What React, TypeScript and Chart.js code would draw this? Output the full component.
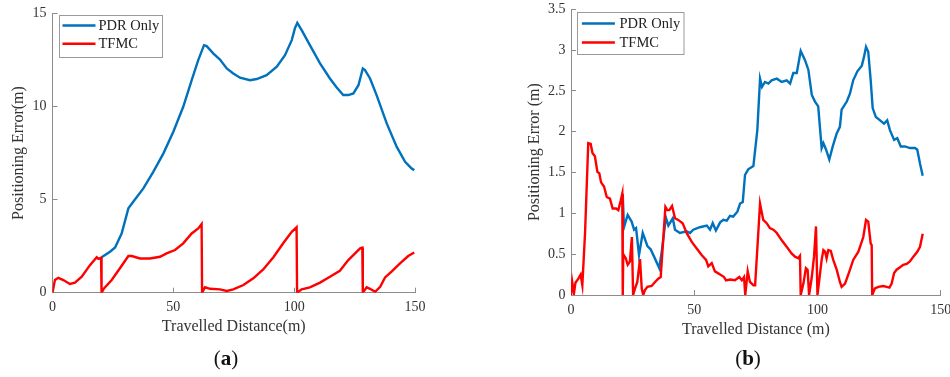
import React, { useEffect, useRef } from "react";
import { Chart, registerables } from "chart.js";

Chart.register(...registerables);

// ---------- Panel (a) ----------
const aXTicks = [0, 50, 100, 150];
const aYTicks = [0, 5, 10, 15];
const aPdrX = [20.3, 23.8, 25.9, 28.6, 31.4, 33.4, 37.6, 41.7, 45.9, 50.0, 54.1, 57.6, 60.3, 62.7, 63.8, 66.6, 69.3, 72.1, 74.8, 77.6, 81.7, 84.5, 88.6, 92.8, 96.2, 99.0, 100.3, 101.3, 103.1, 106.5, 110.7, 114.8, 117.6, 120.3, 122.4, 124.5, 126.6, 128.4, 129.3, 131.4, 134.1, 138.3, 142.4, 145.9, 148.6, 149.7];
const aPdrY = [1.90, 2.20, 2.43, 3.18, 4.53, 4.88, 5.60, 6.49, 7.48, 8.64, 9.98, 11.41, 12.49, 13.29, 13.24, 12.84, 12.52, 12.04, 11.77, 11.54, 11.41, 11.47, 11.68, 12.13, 12.75, 13.56, 14.19, 14.49, 14.10, 13.29, 12.31, 11.50, 11.02, 10.61, 10.61, 10.70, 11.14, 12.04, 11.95, 11.50, 10.61, 9.09, 7.84, 7.03, 6.67, 6.58];
const aTfmcX = [0, 1.0, 2.4, 4.5, 7.2, 9.3, 12.1, 15.5, 18.3, 19.0, 20.1, 20.3, 21.3, 24.5, 27.9, 31.4, 32.8, 36.2, 40.3, 44.5, 47.2, 50.7, 54.1, 57.6, 60.3, 61.7, 61.9, 63.1, 65.2, 69.3, 72.1, 74.8, 79.0, 83.1, 87.2, 91.4, 95.6, 99.0, 101.0, 101.2, 103.1, 106.5, 110.7, 114.8, 118.9, 122.4, 125.2, 127.3, 128.2, 128.4, 130.0, 131.4, 133.5, 135.6, 137.6, 140.3, 143.8, 147.2, 149.7];
const aTfmcY = [0, 0.68, 0.80, 0.68, 0.47, 0.54, 0.86, 1.48, 1.90, 1.82, 1.88, 0, 0.23, 0.68, 1.31, 1.97, 1.97, 1.84, 1.84, 1.93, 2.11, 2.29, 2.65, 3.18, 3.45, 3.69, 0, 0.29, 0.21, 0.18, 0.09, 0.18, 0.41, 0.77, 1.25, 1.90, 2.68, 3.27, 3.51, 0, 0.18, 0.29, 0.54, 0.86, 1.18, 1.75, 2.11, 2.38, 2.42, 0, 0.29, 0.21, 0.05, 0.32, 0.82, 1.13, 1.57, 1.97, 2.16];

// ---------- Panel (b) ----------
const bXTicks = [0, 50, 100, 150];
const bYTicks = [0, 0.5, 1, 1.5, 2, 2.5, 3, 3.5];
const bPdrX = [21.0, 21.5, 23.0, 24.6, 25.6, 26.4, 27.6, 29.1, 31.0, 32.3, 33.7, 35.8, 36.9, 38.5, 39.5, 41.3, 42.2, 44.2, 46.9, 48.3, 49.6, 52.3, 55.1, 56.4, 57.5, 58.8, 60.5, 61.8, 63.2, 64.5, 65.8, 67.5, 68.6, 69.7, 70.6, 71.9, 74.0, 75.6, 76.7, 77.5, 78.7, 80.1, 81.4, 83.5, 85.5, 87.5, 88.9, 90.2, 91.6, 93.2, 94.9, 96.3, 97.7, 99.0, 100.3, 101.7, 102.4, 103.5, 104.8, 106.2, 107.8, 109.1, 109.8, 111.9, 113.2, 114.5, 116.2, 118.0, 118.9, 119.7, 120.6, 121.6, 122.4, 123.7, 125.4, 127.0, 128.3, 129.4, 131.1, 132.4, 133.8, 135.5, 137.5, 139.6, 140.5, 141.6, 142.7];
const bPdrY = [1.22, 0.83, 0.98, 0.90, 0.80, 0.82, 0.49, 0.76, 0.60, 0.56, 0.47, 0.33, 0.55, 0.95, 0.85, 0.94, 0.80, 0.76, 0.78, 0.76, 0.80, 0.83, 0.85, 0.80, 0.88, 0.79, 0.89, 0.92, 0.91, 0.97, 0.96, 1.02, 1.12, 1.14, 1.47, 1.54, 1.58, 2.02, 2.65, 2.55, 2.61, 2.59, 2.63, 2.65, 2.61, 2.63, 2.59, 2.72, 2.72, 2.99, 2.88, 2.76, 2.45, 2.37, 2.31, 1.80, 1.86, 1.78, 1.66, 1.82, 1.98, 2.06, 2.27, 2.37, 2.47, 2.63, 2.74, 2.81, 2.92, 3.04, 2.98, 2.63, 2.29, 2.18, 2.14, 2.10, 2.14, 2.02, 1.90, 1.92, 1.82, 1.82, 1.80, 1.80, 1.78, 1.61, 1.46];
const bTfmcX = [0, 0.5, 1.2, 1.8, 3.0, 3.9, 4.6, 5.7, 7.0, 8.0, 8.7, 9.7, 10.7, 11.5, 12.2, 13.4, 14.5, 15.8, 16.9, 18.3, 19.2, 20.2, 20.8, 21.0, 21.2, 22.2, 23.0, 23.9, 24.7, 25.2, 26.0, 26.9, 28.0, 28.7, 29.3, 30.0, 31.0, 32.7, 34.1, 35.4, 36.4, 38.3, 39.1, 39.9, 41.0, 42.2, 43.5, 45.3, 46.9, 49.0, 51.0, 53.0, 54.8, 55.7, 57.1, 58.4, 60.5, 62.1, 62.9, 64.5, 66.5, 68.3, 69.3, 70.2, 70.7, 71.7, 72.6, 74.0, 74.7, 76.7, 78.0, 79.4, 80.7, 82.1, 83.5, 85.5, 87.5, 89.5, 90.9, 92.2, 92.9, 93.2, 94.3, 95.3, 96.0, 96.6, 97.7, 98.6, 99.4, 100.0, 100.8, 101.7, 102.4, 103.1, 103.7, 104.4, 105.4, 106.4, 107.8, 109.1, 109.8, 111.2, 113.2, 114.5, 116.6, 118.6, 119.7, 120.6, 121.6, 122.0, 122.2, 123.3, 124.7, 126.7, 128.1, 129.2, 130.1, 131.1, 132.1, 133.5, 134.8, 136.2, 137.5, 138.9, 140.5, 141.6, 142.7];
const bTfmcY = [0, 0.16, 0.02, 0.15, 0.20, 0.25, 0.12, 0.76, 1.86, 1.85, 1.74, 1.70, 1.51, 1.49, 1.38, 1.33, 1.20, 1.18, 1.06, 1.06, 1.04, 1.16, 1.24, 0, 0.50, 0.45, 0.37, 0.41, 0.71, 0, 0.08, 0.16, 0.44, 0.08, 0, 0.06, 0.10, 0.11, 0.16, 0.20, 0.22, 1.08, 1.04, 1.04, 1.09, 0.94, 0.92, 0.88, 0.76, 0.65, 0.57, 0.49, 0.43, 0.35, 0.39, 0.29, 0.25, 0.22, 0.18, 0.19, 0.18, 0.22, 0.18, 0.22, 0, 0.29, 0.16, 0.12, 0.12, 1.12, 0.92, 0.88, 0.82, 0.80, 0.76, 0.67, 0.59, 0.51, 0.47, 0.45, 0.48, 0, 0.14, 0.33, 0.31, 0, 0.22, 0.47, 0.84, 0, 0.20, 0.43, 0.55, 0.53, 0.45, 0.55, 0.54, 0.43, 0.31, 0.16, 0.10, 0.14, 0.31, 0.43, 0.53, 0.71, 0.92, 0.90, 0.63, 0.61, 0, 0.08, 0.10, 0.11, 0.10, 0.09, 0.14, 0.27, 0.31, 0.34, 0.37, 0.38, 0.41, 0.47, 0.53, 0.59, 0.75];

const seriesNames = ["PDR Only", "TFMC"];
const seriesColors = ["#0072BD", "#FF0000"];

const FONT = "'Liberation Serif', 'Times New Roman', serif";
const TEXT = "#333333";
const AXIS = "#8c8c8c";

const zip = (xs: number[], ys: number[]) => xs.map((x, i) => ({ x, y: ys[i] }));

const boxLegend = {
  id: "boxLegend",
  afterDatasetsDraw(chart: any, _args: any, o: any) {
    const { ctx, chartArea } = chart;
    const x0 = Math.round(chartArea.left + o.dx) + 0.5;
    const y0 = Math.round(chartArea.top + o.dy) + 0.5;
    ctx.save();
    ctx.fillStyle = "#ffffff";
    ctx.fillRect(x0, y0, o.w, o.h);
    ctx.strokeStyle = "#9a9a9a";
    ctx.lineWidth = 1;
    ctx.strokeRect(x0, y0, o.w, o.h);
    chart.data.datasets.forEach((ds: any, i: number) => {
      const y = y0 + o.rows[i];
      ctx.strokeStyle = ds.borderColor;
      ctx.lineWidth = 2.5;
      ctx.beginPath();
      ctx.moveTo(x0 + o.lineX, y);
      ctx.lineTo(x0 + o.lineX + o.lineLen, y);
      ctx.stroke();
      ctx.fillStyle = "#222222";
      ctx.font = `${o.fontSize}px ${FONT}`;
      ctx.textBaseline = "middle";
      ctx.textAlign = "left";
      ctx.fillText(ds.label, x0 + o.textX, y + 0.5);
    });
    ctx.restore();
  },
};

type PanelCfg = {
  pdr: { x: number; y: number }[];
  tfmc: { x: number; y: number }[];
  xTicks: number[];
  yTicks: number[];
  yMax: number;
  yTitle: string;
  xTitle: string;
  pad: { left: number; top: number; right: number; bottom: number };
  yWidth: number;
  xHeight: number;
  yTitlePad: number;
  xTitlePad: number;
  yTickPad: number;
  xTickPad: number;
  legend: any;
};

const noOverhang = (s: any) => {
  s.paddingTop = 0;
  s.paddingBottom = 0;
  s.paddingLeft = 0;
  s.paddingRight = 0;
};

function makeConfig(p: PanelCfg): any {
  return {
    type: "line",
    data: {
      datasets: [
        { label: seriesNames[0], data: p.pdr, borderColor: seriesColors[0], backgroundColor: seriesColors[0], borderWidth: 2.4, pointRadius: 0, tension: 0, order: 1 },
        { label: seriesNames[1], data: p.tfmc, borderColor: seriesColors[1], backgroundColor: seriesColors[1], borderWidth: 2.4, pointRadius: 0, tension: 0, order: 0 },
      ],
    },
    options: {
      responsive: false,
      animation: false,
      events: [],
      layout: { padding: p.pad },
      plugins: {
        legend: { display: false },
        tooltip: { enabled: false },
        boxLegend: p.legend,
      },
      scales: {
        x: {
          type: "linear",
          min: p.xTicks[0],
          max: p.xTicks[p.xTicks.length - 1],
          afterBuildTicks: (s: any) => { s.ticks = p.xTicks.map((v) => ({ value: v })); },
          afterFit: (s: any) => { s.height = p.xHeight; noOverhang(s); },
          ticks: { color: TEXT, font: { family: FONT, size: 14 }, padding: p.xTickPad, maxRotation: 0, callback: (v: any) => String(v) },
          grid: { display: true, drawOnChartArea: false, drawTicks: true, tickLength: -5, color: AXIS },
          border: { display: true, color: AXIS, width: 1 },
          title: { display: true, text: p.xTitle, color: TEXT, font: { family: FONT, size: 16 }, padding: { top: 0, bottom: p.xTitlePad } },
        },
        y: {
          type: "linear",
          min: 0,
          max: p.yMax,
          afterBuildTicks: (s: any) => { s.ticks = p.yTicks.map((v) => ({ value: v })); },
          afterFit: (s: any) => { s.width = p.yWidth; noOverhang(s); },
          ticks: { color: TEXT, font: { family: FONT, size: 14 }, padding: p.yTickPad, callback: (v: any) => String(v) },
          grid: { display: true, drawOnChartArea: false, drawTicks: true, tickLength: -5, color: AXIS },
          border: { display: true, color: AXIS, width: 1 },
          title: { display: true, text: p.yTitle, color: TEXT, font: { family: FONT, size: 16 }, padding: { top: p.yTitlePad, bottom: 0 } },
        },
      },
    },
    plugins: [boxLegend],
  };
}

function Panel({ cfg, left, width }: { cfg: PanelCfg; left: number; width: number }) {
  const ref = useRef<HTMLCanvasElement>(null);
  useEffect(() => {
    if (!ref.current) return;
    const chart = new Chart(ref.current, makeConfig(cfg));
    return () => chart.destroy();
  }, []);
  return (
    <div style={{ position: "absolute", left, top: 0, width, height: 377 }}>
      <canvas ref={ref} width={width} height={377} style={{ display: "block" }} />
    </div>
  );
}

const panelA: PanelCfg = {
  pdr: zip(aPdrX, aPdrY),
  tfmc: zip(aTfmcX, aTfmcY),
  xTicks: aXTicks,
  yTicks: aYTicks,
  yMax: 15,
  yTitle: "Positioning Error(m)",
  xTitle: "Travelled Distance(m)",
  pad: { left: 0, top: 13.3, right: 60, bottom: 0 },
  yWidth: 52.5,
  xHeight: 84.3,
  yTitlePad: 9.4,
  xTitlePad: 40.4,
  yTickPad: 11,
  xTickPad: 11,
  legend: { dx: 6, dy: 1.7, w: 103, h: 42, lineX: 3, lineLen: 33, textX: 39, rows: [10, 28.3], fontSize: 14.5 },
};

const panelB: PanelCfg = {
  pdr: zip(bPdrX, bPdrY),
  tfmc: zip(bTfmcX, bTfmcY),
  xTicks: bXTicks,
  yTicks: bYTicks,
  yMax: 3.5,
  yTitle: "Positioning Error (m)",
  xTitle: "Travelled Distance (m)",
  pad: { left: 0, top: 9.3, right: 24.3, bottom: 0 },
  yWidth: 96,
  xHeight: 82,
  yTitlePad: 50.4,
  xTitlePad: 37.4,
  yTickPad: 10.5,
  xTickPad: 12,
  legend: { dx: 6.3, dy: 3, w: 106.5, h: 42, lineX: 4.4, lineLen: 33, textX: 42, rows: [11, 30], fontSize: 14.5 },
};

function Caption({ letter, cx }: { letter: string; cx: number }) {
  return (
    <div style={{ position: "absolute", left: cx - 40, top: 345, width: 80, height: 26, lineHeight: "26px", textAlign: "center", fontFamily: FONT, fontSize: 21, color: "#111" }}>
      (<b>{letter}</b>)
    </div>
  );
}

export default function App() {
  return (
    <div style={{ position: "absolute", left: 0, top: 0, width: 950, height: 377, overflow: "hidden", background: "#fff" }}>
      <Panel cfg={panelA} left={0} width={475} />
      <Panel cfg={panelB} left={475} width={490} />
      <Caption letter="a" cx={226} />
      <Caption letter="b" cx={748} />
    </div>
  );
}
